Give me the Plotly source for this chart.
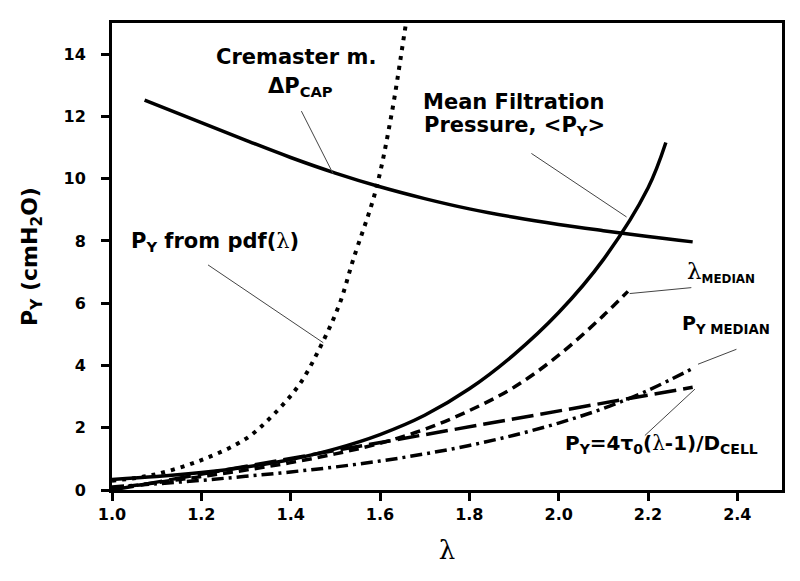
import plotly.graph_objects as go

# Cremaster m. capillary pressure drop
lam_cap = [1.073, 1.2, 1.3, 1.4, 1.5, 1.6, 1.7, 1.8, 1.9, 2.0, 2.1, 2.2, 2.3]
p_cap = [12.52, 11.8, 11.23, 10.68, 10.18, 9.74, 9.36, 9.03, 8.76, 8.53, 8.33, 8.14, 7.97]

# Mean filtration pressure <P_Y>
lam_mean = [1.0, 1.1, 1.2, 1.3, 1.4, 1.5, 1.6, 1.7, 1.8, 1.9, 2.0, 2.1, 2.2, 2.24]
p_mean = [0.34, 0.43, 0.56, 0.74, 0.98, 1.32, 1.78, 2.4, 3.25, 4.35, 5.7, 7.4, 9.7, 11.16]

# P_Y from pdf(lambda)
lam_pdf = [1.0, 1.09, 1.2, 1.3, 1.36, 1.42, 1.47, 1.51, 1.54, 1.59, 1.625, 1.655, 1.67]
p_pdf = [0.3, 0.48, 0.96, 1.65, 2.4, 3.4, 4.7, 6.0, 7.4, 9.6, 12.0, 14.7, 16.1]

# lambda_MEDIAN
lam_lmed = [1.0, 1.1, 1.2, 1.3, 1.4, 1.5, 1.6, 1.7, 1.8, 1.9, 2.0, 2.1, 2.155]
p_lmed = [0.05, 0.24, 0.43, 0.64, 0.88, 1.16, 1.5, 1.95, 2.55, 3.3, 4.33, 5.6, 6.38]

# P_Y = 4 tau0 (lambda-1)/D_CELL
lam_lin = [1.0, 2.3]
p_lin = [0.0, 3.3]

# P_Y MEDIAN
lam_pmed = [1.0, 1.1, 1.2, 1.3, 1.4, 1.5, 1.6, 1.7, 1.8, 1.9, 2.0, 2.1, 2.2, 2.305]
p_pmed = [0.1, 0.2, 0.31, 0.44, 0.58, 0.74, 0.93, 1.16, 1.43, 1.76, 2.15, 2.62, 3.2, 3.94]

x_ticks = [1.0, 1.2, 1.4, 1.6, 1.8, 2.0, 2.2, 2.4]
y_ticks = [0, 2, 4, 6, 8, 10, 12, 14]

FONT = "DejaVu Sans, Arial, sans-serif"
LAM = '<span style="font-family:DejaVu Serif;font-weight:normal">λ</span>'
LAM_BIG = '<span style="font-family:DejaVu Serif;font-weight:normal;font-size:23px">λ</span>'

fig = go.Figure()

def add_line(x, y, dash, width=3.5):
    fig.add_trace(go.Scatter(x=x, y=y, mode="lines", line_shape="spline",
                             line=dict(color="black", width=width, dash=dash),
                             showlegend=False, hoverinfo="skip"))

add_line(lam_cap, p_cap, "solid")
add_line(lam_mean, p_mean, "solid")
add_line(lam_pdf, p_pdf, "4px,6px", 4)
add_line(lam_lmed, p_lmed, "10px,6px")
add_line(lam_lin, p_lin, "22px,7px")
add_line(lam_pmed, p_pmed, "12px,5px,3px,5px")

# leader lines (x0, y0, x1, y1)
leaders = [
    (1.424, 12.17, 1.495, 10.16),
    (1.215, 7.23, 1.473, 4.73),
    (1.939, 10.81, 2.152, 8.77),
    (2.297, 6.50, 2.159, 6.31),
    (2.398, 4.52, 2.312, 4.04),
    (2.193, 1.75, 2.305, 3.24),
]
for x0, y0, x1, y1 in leaders:
    fig.add_shape(type="line", xref="x", yref="y", x0=x0, y0=y0, x1=x1, y1=y1,
                  line=dict(color="#444444", width=1))

labels = [
    (1.229, 13.9, "Cremaster m.", 21),
    (1.345, 12.95, "ΔP<sub>CAP</sub>", 21),
    (1.038, 7.95, "P<sub>Y</sub> from pdf(" + LAM + ")", 21),
    (1.692, 12.47, "Mean Filtration", 21),
    (1.694, 11.68, "Pressure, &lt;P<sub>Y</sub>&gt;", 21),
    (2.283, 7.0, LAM_BIG + "<sub>MEDIAN</sub>", 17),
    (2.272, 5.3, "P<sub>Y MEDIAN</sub>", 19),
    (2.010, 1.47, "P<sub>Y</sub>=4τ<sub>0</sub>(" + LAM + "-1)/D<sub>CELL</sub>", 20),
]
for x, y, t, s in labels:
    fig.add_annotation(x=x, y=y, xref="x", yref="y", text=t, showarrow=False,
                       xanchor="left", yanchor="middle",
                       font=dict(family=FONT, size=s, color="black", weight="bold"))

axis_common = dict(showline=True, linecolor="black", linewidth=3, mirror=True,
                   ticks="outside", ticklen=8, tickwidth=3, tickcolor="black",
                   showgrid=False, zeroline=False,
                   tickfont=dict(family=FONT, size=16, color="black", weight="bold"))

fig.update_xaxes(range=[1.0, 2.5], tickvals=x_ticks,
                 ticktext=[f"{v:.1f}" for v in x_ticks], ticklabelstandoff=0,
                 title=dict(text="λ", font=dict(family="DejaVu Serif", size=26, color="black"),
                            standoff=18),
                 **axis_common)
fig.update_yaxes(range=[0, 15], tickvals=y_ticks, ticklabelstandoff=12,
                 title=dict(text="P<sub>Y</sub> (cmH<sub>2</sub>O)",
                            font=dict(family=FONT, size=22, color="black", weight="bold"),
                            standoff=20),
                 **axis_common)

fig.update_layout(width=800, height=581, plot_bgcolor="white", paper_bgcolor="white",
                  margin=dict(l=104, r=26, t=13, b=99), showlegend=False)

fig.write_html("out.html")
